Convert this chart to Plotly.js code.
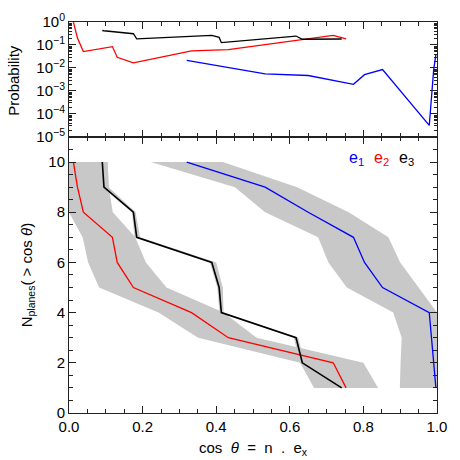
<!DOCTYPE html>
<html>
<head>
<meta charset="utf-8">
<script src="https://cdn.plot.ly/plotly-3.0.1.min.js"></script>
<style>html,body{margin:0;padding:0;background:#fff;}#chart{width:460px;height:460px;}</style>
</head>
<body>
<div id="chart"></div>
<script>
// Number of planes (cumulative)
const nPlanes = [10, 9, 8, 7, 6, 5, 4, 3, 2, 1];

// cos theta for each eigenvector series
const cosE1 = [0.320, 0.533, 0.650, 0.773, 0.803, 0.852, 0.979, 0.986, 0.991, 0.997];
const cosE2 = [0.012, 0.023, 0.039, 0.118, 0.131, 0.175, 0.333, 0.433, 0.718, 0.753];
const cosE3 = [0.0905, 0.095, 0.175, 0.184, 0.388, 0.408, 0.414, 0.617, 0.634, 0.741];

// Probabilities (top panel)
const probE1 = [0.0214, 0.0055, 0.0047, 0.00195, 0.0051, 0.0085, 0.000032, 0.00115, 0.0085, 0.038];
const probE2 = [0.98, 0.20, 0.052, 0.085, 0.029, 0.0166, 0.056, 0.063, 0.26, 0.186];
const probE3 = [0.427, 0.417, 0.309, 0.186, 0.263, 0.214, 0.126, 0.245, 0.178, 0.182];

// Spread bands (low / high cos theta for each N)
const bandE1Lo = [0.222, 0.451, 0.533, 0.677, 0.705, 0.755, 0.881, 0.904, 0.901, 0.899];
const bandE1Hi = [0.418, 0.620, 0.760, 0.868, 0.900, 0.950, 1.0, 1.0, 1.0, 1.0];
const bandE2Lo = [0.0, 0.0, 0.0, 0.037, 0.052, 0.082, 0.243, 0.351, 0.628, 0.666];
const bandE2Hi = [0.105, 0.108, 0.119, 0.180, 0.209, 0.265, 0.420, 0.510, 0.800, 0.840];
const bandE3Lo = [0.085, 0.090, 0.171, 0.178, 0.383, 0.403, 0.409, 0.611, 0.627, 0.735];
const bandE3Hi = [0.105, 0.108, 0.181, 0.193, 0.400, 0.418, 0.420, 0.623, 0.640, 0.750];

const xTickVals = [0, 0.2, 0.4, 0.6, 0.8, 1.0];
const xTickText = ['0.0', '0.2', '0.4', '0.6', '0.8', '1.0'];
const pTickVals = [1e-5, 1e-4, 1e-3, 1e-2, 1e-1, 1];
const pTickText = ['10<sup>−5</sup>', '10<sup>−4</sup>', '10<sup>−3</sup>', '10<sup>−2</sup>', '10<sup>−1</sup>', '10<sup>0</sup>'];

const BLUE = '#0000ff', RED = '#ff0000', BLACK = '#000000', GRAY = '#c8c8c8';
const SP = '\u00a0\u00a0';

function band(lo, hi) {
  return {
    x: lo.concat(hi.slice().reverse()),
    y: nPlanes.concat(nPlanes.slice().reverse()),
    type: 'scatter', mode: 'lines', fill: 'toself', fillcolor: GRAY,
    line: {width: 0, color: GRAY}, hoverinfo: 'skip', showlegend: false,
    xaxis: 'x', yaxis: 'y'
  };
}
function line(x, y, c, ax, ay, w) {
  return {x: x, y: y, type: 'scatter', mode: 'lines', line: {color: c, width: w || 1.3},
          showlegend: false, xaxis: ax, yaxis: ay};
}

const traces = [
  band(bandE1Lo, bandE1Hi),
  band(bandE2Lo, bandE2Hi),
  band(bandE3Lo, bandE3Hi),
  line(cosE1, nPlanes, BLUE, 'x', 'y'),
  line(cosE2, nPlanes, RED, 'x', 'y'),
  line(cosE3, nPlanes, BLACK, 'x', 'y', 1.6),
  line(cosE1, probE1, BLUE, 'x2', 'y2'),
  line(cosE2, probE2, RED, 'x2', 'y2'),
  line(cosE3, probE3, BLACK, 'x2', 'y2')
];

const FONT = {family: 'Liberation Sans, Arial, Helvetica, sans-serif', size: 14, color: '#000'};
const axCommon = {
  showline: true, linecolor: '#222', linewidth: 1, mirror: 'ticks',
  ticks: 'inside', tickcolor: '#222', showgrid: false, zeroline: false,
  tickfont: {family: FONT.family, size: 15, color: '#000'}
};

const layout = {
  width: 460, height: 460,
  margin: {l: 69, r: 23, t: 22, b: 47},
  paper_bgcolor: '#fff', plot_bgcolor: '#fff',
  font: FONT, showlegend: false,
  xaxis: Object.assign({}, axCommon, {
    domain: [0, 1], range: [0, 1], anchor: 'y',
    tickmode: 'array', tickvals: xTickVals, ticktext: xTickText, ticklen: 7,
    minor: {ticks: 'inside', ticklen: 4, dtick: 0.05, tick0: 0, tickcolor: '#222'}
  }),
  yaxis: Object.assign({}, axCommon, {
    domain: [0, 0.706], range: [0, 11], anchor: 'x',
    tickmode: 'linear', tick0: 0, dtick: 2, ticklen: 7,
    minor: {ticks: 'inside', ticklen: 4, dtick: 0.5, tick0: 0, tickcolor: '#222'}
  }),
  xaxis2: Object.assign({}, axCommon, {
    domain: [0, 1], range: [0, 1], anchor: 'y2', showticklabels: false,
    tickmode: 'array', tickvals: xTickVals, ticklen: 7,
    minor: {ticks: 'inside', ticklen: 4, dtick: 0.05, tick0: 0, tickcolor: '#222'}
  }),
  yaxis2: Object.assign({}, axCommon, {
    domain: [0.706, 1], type: 'log', range: [-5, 0], anchor: 'x2',
    tickmode: 'array', tickvals: pTickVals, ticktext: pTickText, ticklen: 7,
    minor: {ticks: 'inside', ticklen: 3, dtick: 'D1', tickcolor: '#222'}
  }),
  annotations: [
    {xref: 'x', yref: 'y', x: 0.782, y: 10.13, text: 'e<sub>1</sub>', showarrow: false,
     font: {family: FONT.family, size: 16, color: BLUE}},
    {xref: 'x', yref: 'y', x: 0.85, y: 10.13, text: 'e<sub>2</sub>', showarrow: false,
     font: {family: FONT.family, size: 16, color: RED}},
    {xref: 'x', yref: 'y', x: 0.918, y: 10.13, text: 'e<sub>3</sub>', showarrow: false,
     font: {family: FONT.family, size: 16, color: BLACK}},
    {xref: 'paper', yref: 'paper', x: -0.150, y: 0.852, xanchor: 'center', yanchor: 'middle',
     text: 'Probability', textangle: -90,
     showarrow: false, font: {family: FONT.family, size: 15, color: '#000'}},
    {xref: 'paper', yref: 'paper', x: -0.112, y: 0.354, xanchor: 'center', yanchor: 'middle',
     text: 'N<sub>planes</sub>( > cos <i>θ</i>)', textangle: -90,
     showarrow: false, font: {family: FONT.family, size: 15, color: '#000'}},
    {xref: 'paper', yref: 'paper', x: 0.502, y: -0.092, xanchor: 'center', yanchor: 'middle',
     text: 'cos' + SP + '<i>θ</i>' + SP + '=' + SP + 'n' + SP + '.' + SP + 'e<sub>x</sub>', showarrow: false,
     font: {family: FONT.family, size: 15, color: '#000'}}
  ]
};

Plotly.newPlot('chart', traces, layout, {displayModeBar: false, staticPlot: true});
</script>
</body>
</html>
